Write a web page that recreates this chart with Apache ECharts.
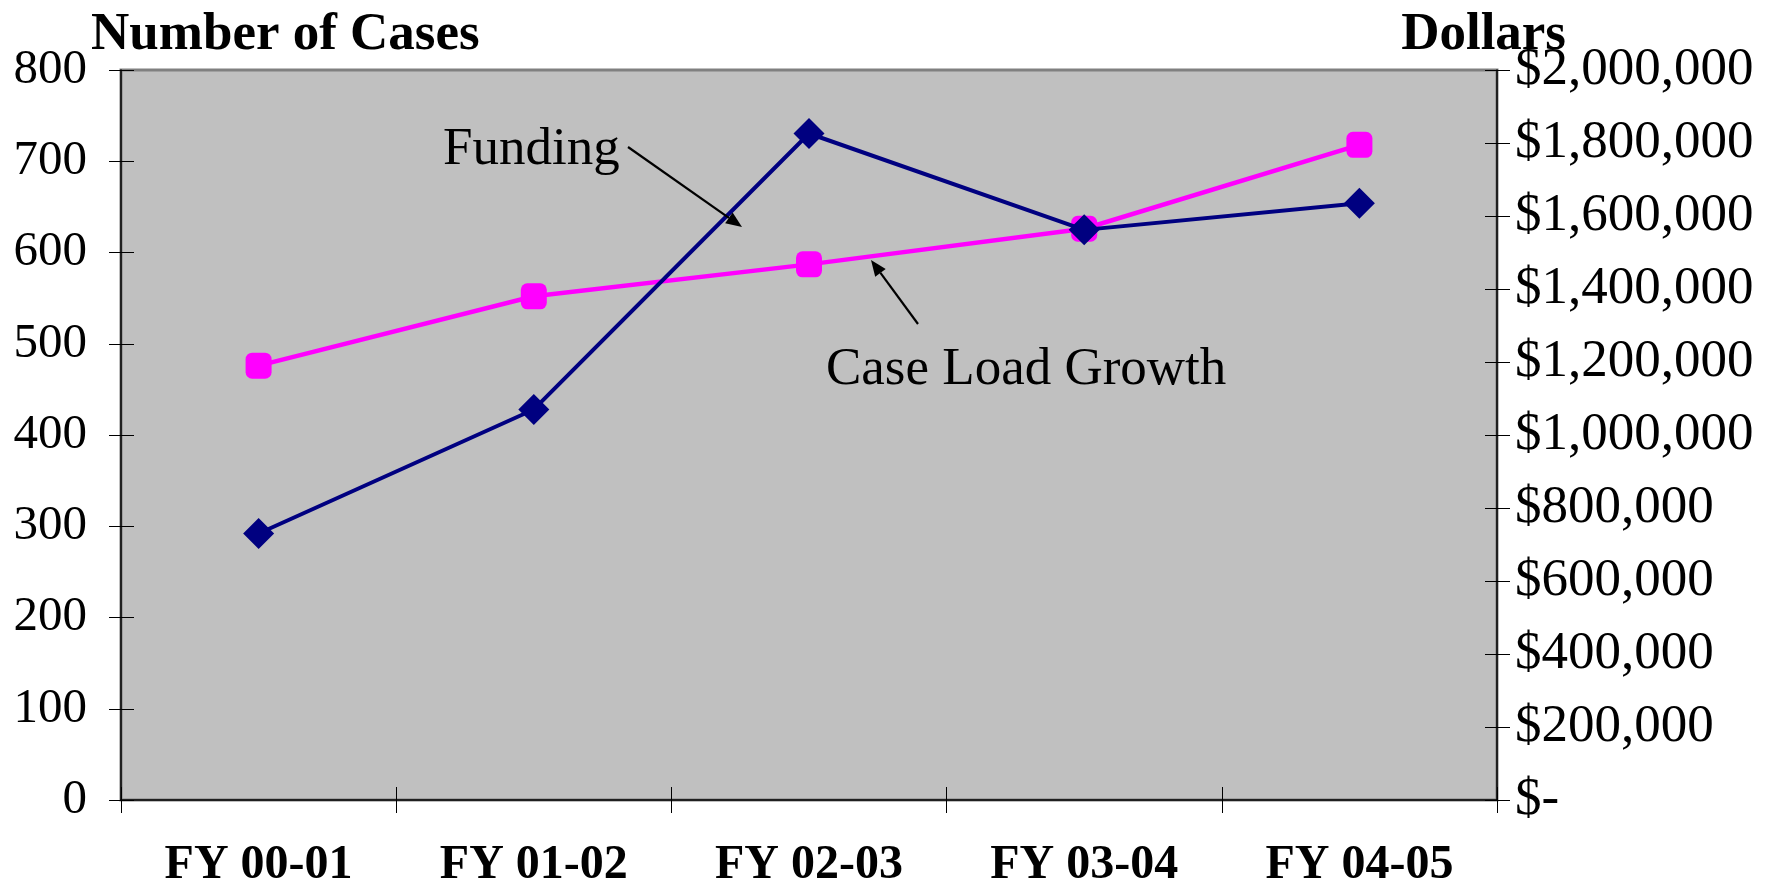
<!DOCTYPE html>
<html>
<head>
<meta charset="utf-8">
<script src="https://cdn.jsdelivr.net/npm/echarts@6/dist/echarts.min.js"></script>
<style>
html,body{margin:0;padding:0;background:#ffffff;}
#chart{width:1791px;height:887px;}
</style>
</head>
<body>
<div id="chart"></div>
<script>
const categories = ['FY 00-01', 'FY 01-02', 'FY 02-03', 'FY 03-04', 'FY 04-05'];
const caseLoad = [476, 552, 587, 626, 718];
const funding = [730000, 1070000, 1826000, 1562000, 1635000];
const casesTicks = { min: 0, max: 800, interval: 100 };
const dollarTicks = { min: 0, max: 2000000, interval: 200000 };
const leftTitle = 'Number of Cases';
const rightTitle = 'Dollars';
const fundingLabel = 'Funding';
const caseLabel = 'Case Load Growth';

const FONT = "'Liberation Serif', 'Times New Roman', serif";

function dollarFmt(v) {
  if (v === 0) return '$-';
  return '$' + v.toLocaleString('en-US');
}

function arrow(x1, y1, x2, y2) {
  const ang = Math.atan2(y2 - y1, x2 - x1);
  const L = 16, W = 6.5;
  const bx = x2 - L * Math.cos(ang), by = y2 - L * Math.sin(ang);
  const px = -Math.sin(ang) * W, py = Math.cos(ang) * W;
  return [
    { type: 'line', shape: { x1: x1, y1: y1, x2: bx, y2: by }, style: { stroke: '#000', lineWidth: 2.2 }, z: 100 },
    { type: 'polygon', shape: { points: [[x2, y2], [bx + px, by + py], [bx - px, by - py]] }, style: { fill: '#000' }, z: 100 }
  ];
}

const chart = echarts.init(document.getElementById('chart'), null, { renderer: 'canvas' });

const gridDef = { left: 121, right: 294, top: 70, bottom: 87 };

const option = {
  animation: false,
  backgroundColor: '#ffffff',
  grid: Object.assign({ show: true, backgroundColor: '#C0C0C0', borderColor: '#808080', borderWidth: 3, containLabel: false, outerBoundsMode: 'none' }, gridDef),
  xAxis: [
    {
      type: 'category', data: categories, boundaryGap: true, position: 'bottom',
      axisLine: { show: true, lineStyle: { color: '#000', width: 1.5 } },
      axisTick: { show: true, inside: false, length: 13, lineStyle: { color: '#000', width: 1 } },
      axisLabel: { fontFamily: FONT, fontWeight: 'bold', fontSize: 48, color: '#000', margin: 42 },
      splitLine: { show: false }
    },
    {
      type: 'category', data: categories, boundaryGap: true, position: 'bottom',
      axisLine: { show: false },
      axisTick: { show: true, inside: true, length: 13, lineStyle: { color: '#000', width: 1 } },
      axisLabel: { show: false },
      splitLine: { show: false }
    }
  ],
  yAxis: [
    {
      type: 'value', position: 'left', min: casesTicks.min, max: casesTicks.max, interval: casesTicks.interval,
      axisLine: { show: true, lineStyle: { color: '#000', width: 1.5 } },
      axisTick: { show: true, inside: false, length: 12, lineStyle: { color: '#000', width: 1 } },
      axisLabel: { fontFamily: FONT, fontSize: 49, color: '#000', margin: 34 },
      splitLine: { show: false }
    },
    {
      type: 'value', position: 'right', min: dollarTicks.min, max: dollarTicks.max, interval: dollarTicks.interval,
      axisLine: { show: true, lineStyle: { color: '#000', width: 1.5 } },
      axisTick: { show: true, inside: false, length: 13, lineStyle: { color: '#000', width: 1 } },
      axisLabel: { fontFamily: FONT, fontSize: 53, color: '#000', margin: 18, formatter: dollarFmt },
      splitLine: { show: false }
    },
    {
      type: 'value', position: 'left', min: casesTicks.min, max: casesTicks.max, interval: casesTicks.interval,
      axisLine: { show: false },
      axisTick: { show: true, inside: true, length: 13, lineStyle: { color: '#000', width: 1 } },
      axisLabel: { show: false }, splitLine: { show: false }
    },
    {
      type: 'value', position: 'right', min: dollarTicks.min, max: dollarTicks.max, interval: dollarTicks.interval,
      axisLine: { show: false },
      axisTick: { show: true, inside: true, length: 12, lineStyle: { color: '#000', width: 1 } },
      axisLabel: { show: false }, splitLine: { show: false }
    }
  ],
  series: [
    {
      name: 'Case Load Growth', type: 'line', xAxisIndex: 0, yAxisIndex: 0, data: caseLoad,
      symbol: 'roundRect', symbolSize: 26, showSymbol: true,
      lineStyle: { color: '#FF00FF', width: 4.5 },
      itemStyle: { color: '#FF00FF' },
      z: 3
    },
    {
      name: 'Funding', type: 'line', xAxisIndex: 0, yAxisIndex: 1, data: funding,
      symbol: 'diamond', symbolSize: 31, showSymbol: true,
      lineStyle: { color: '#000080', width: 4 },
      itemStyle: { color: '#000080' },
      z: 4
    }
  ],
  graphic: [
    { type: 'text', left: 91, top: 9, style: { text: leftTitle, font: 'bold 53px ' + FONT, fill: '#000' }, z: 100 },
    { type: 'text', right: 1791 - 1566, top: 9, style: { text: rightTitle, font: 'bold 53px ' + FONT, fill: '#000' }, z: 100 },
    { type: 'text', left: 443, top: 124, style: { text: fundingLabel, font: '53px ' + FONT, fill: '#000' }, z: 100 },
    { type: 'text', left: 826, top: 344, style: { text: caseLabel, font: '53px ' + FONT, fill: '#000' }, z: 100 }
  ].concat(arrow(628, 147, 742, 227)).concat(arrow(918, 324, 871, 260))
};

chart.setOption(option);
</script>
</body>
</html>
